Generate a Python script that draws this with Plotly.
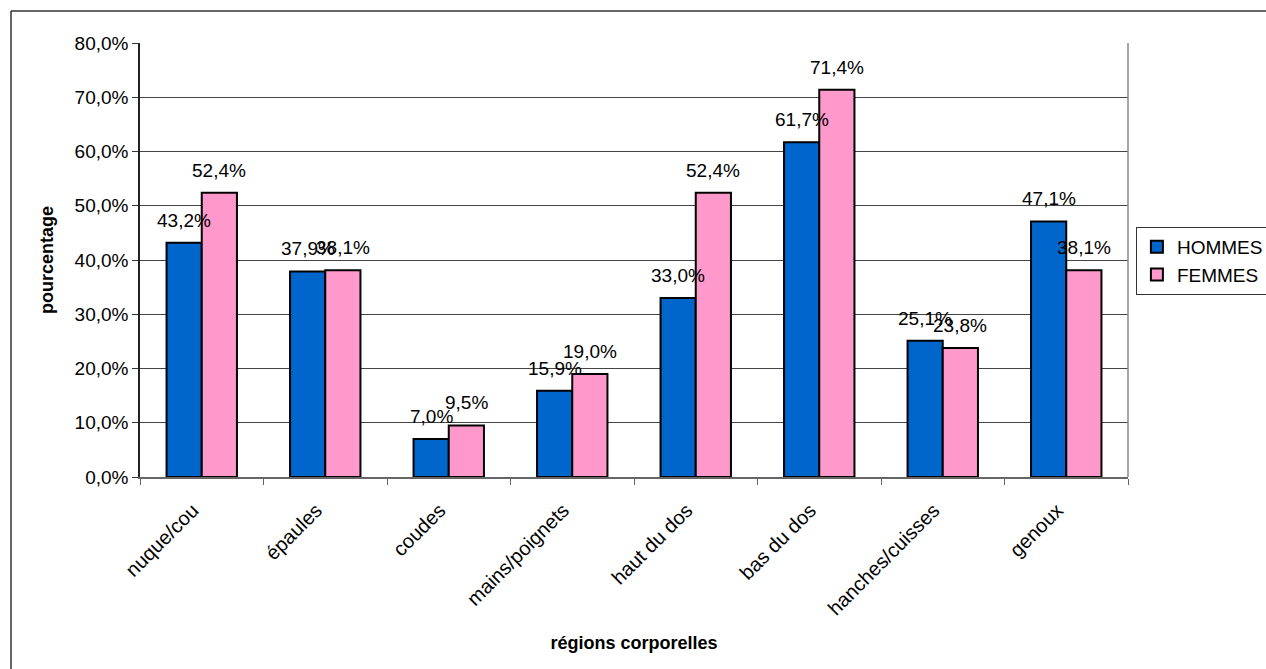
import plotly.graph_objects as go

categories = ["nuque/cou", "épaules", "coudes", "mains/poignets", "haut du dos",
              "bas du dos", "hanches/cuisses", "genoux"]
hommes = [43.2, 37.9, 7.0, 15.9, 33.0, 61.7, 25.1, 47.1]
femmes = [52.4, 38.1, 9.5, 19.0, 52.4, 71.4, 23.8, 38.1]
y_ticks = [0, 10, 20, 30, 40, 50, 60, 70, 80]

W, H = 1266, 669
L, R, T, B = 140, 138, 43, 192
PW, PH = W - L - R, H - T - B
BARGAP = 0.43

def lab(v):
    return f"{v:.1f}%".replace(".", ",")

FONT = "Liberation Sans, Arial, sans-serif"

fig = go.Figure()
series = [("HOMMES", hommes, "#0066CC"), ("FEMMES", femmes, "#FF99CC")]
for name, vals, col in series:
    fig.add_trace(go.Bar(
        x=categories, y=vals, name=name,
        marker=dict(color=col, line=dict(color="black", width=2)),
        cliponaxis=False,
    ))

# data labels above each bar
bar_px = PW / len(categories) * (1 - BARGAP) / len(series)
for i, (name, vals, col) in enumerate(series):
    shift = (i - (len(series) - 1) / 2) * bar_px
    for c, v in zip(categories, vals):
        fig.add_annotation(x=c, y=v, xref="x", yref="y", text=lab(v),
                           showarrow=False, xanchor="center", yanchor="bottom",
                           xshift=shift, yshift=10,
                           font=dict(family=FONT, size=19, color="black"))

fig.update_layout(
    width=W, height=H,
    margin=dict(l=L, r=R, t=T, b=B, autoexpand=False),
    paper_bgcolor="white", plot_bgcolor="white",
    barmode="group", bargap=BARGAP, bargroupgap=0,
    separators=", ",
    font=dict(family=FONT, size=19, color="black"),
    showlegend=True,
    legend=dict(x=1.008, y=0.576, xanchor="left", yanchor="top",
                bordercolor="#333", borderwidth=1, bgcolor="white",
                font=dict(size=19), tracegroupgap=0),
    xaxis=dict(
        tickangle=-45, tickson="boundaries", ticks="outside", ticklen=6,
        tickcolor="#666", showline=True, linecolor="#666", linewidth=1.5,
        tickfont=dict(size=20), ticklabelstandoff=12, ticklabelshift=-9,
        title=dict(text="<b>régions corporelles</b>", font=dict(size=18), standoff=18),
        automargin=False,
    ),
    yaxis=dict(
        range=[0, 80], tickvals=y_ticks, ticktext=[lab(v) for v in y_ticks],
        ticks="outside", ticklen=6, tickcolor="#333",
        showline=True, linecolor="#222", linewidth=1.5,
        showgrid=True, gridcolor="#444", gridwidth=1,
        tickfont=dict(size=19),
        title=dict(text="<b>pourcentage</b>", font=dict(size=18), standoff=16),
        automargin=False,
    ),
)

# outer chart frame (only top and left edges are inside the picture)
fx0 = (11 - L) / PW
fy1 = 1 + (T - 11) / PH
fig.add_shape(type="line", xref="paper", yref="paper",
              x0=fx0, x1=(W - L) / PW, y0=fy1, y1=fy1,
              line=dict(color="#333", width=1.5), layer="above")
fig.add_shape(type="line", xref="paper", yref="paper",
              x0=fx0, x1=fx0, y0=fy1, y1=-B / PH,
              line=dict(color="#333", width=1.5), layer="above")
# right border of plot area
fig.add_shape(type="line", xref="paper", yref="paper", x0=1, x1=1, y0=0, y1=1,
              line=dict(color="#888", width=1.5))

fig.write_html("out.html", config={"displayModeBar": False},
               post_script="document.body.style.margin='0';"
                           "document.body.style.overflow='hidden';")
